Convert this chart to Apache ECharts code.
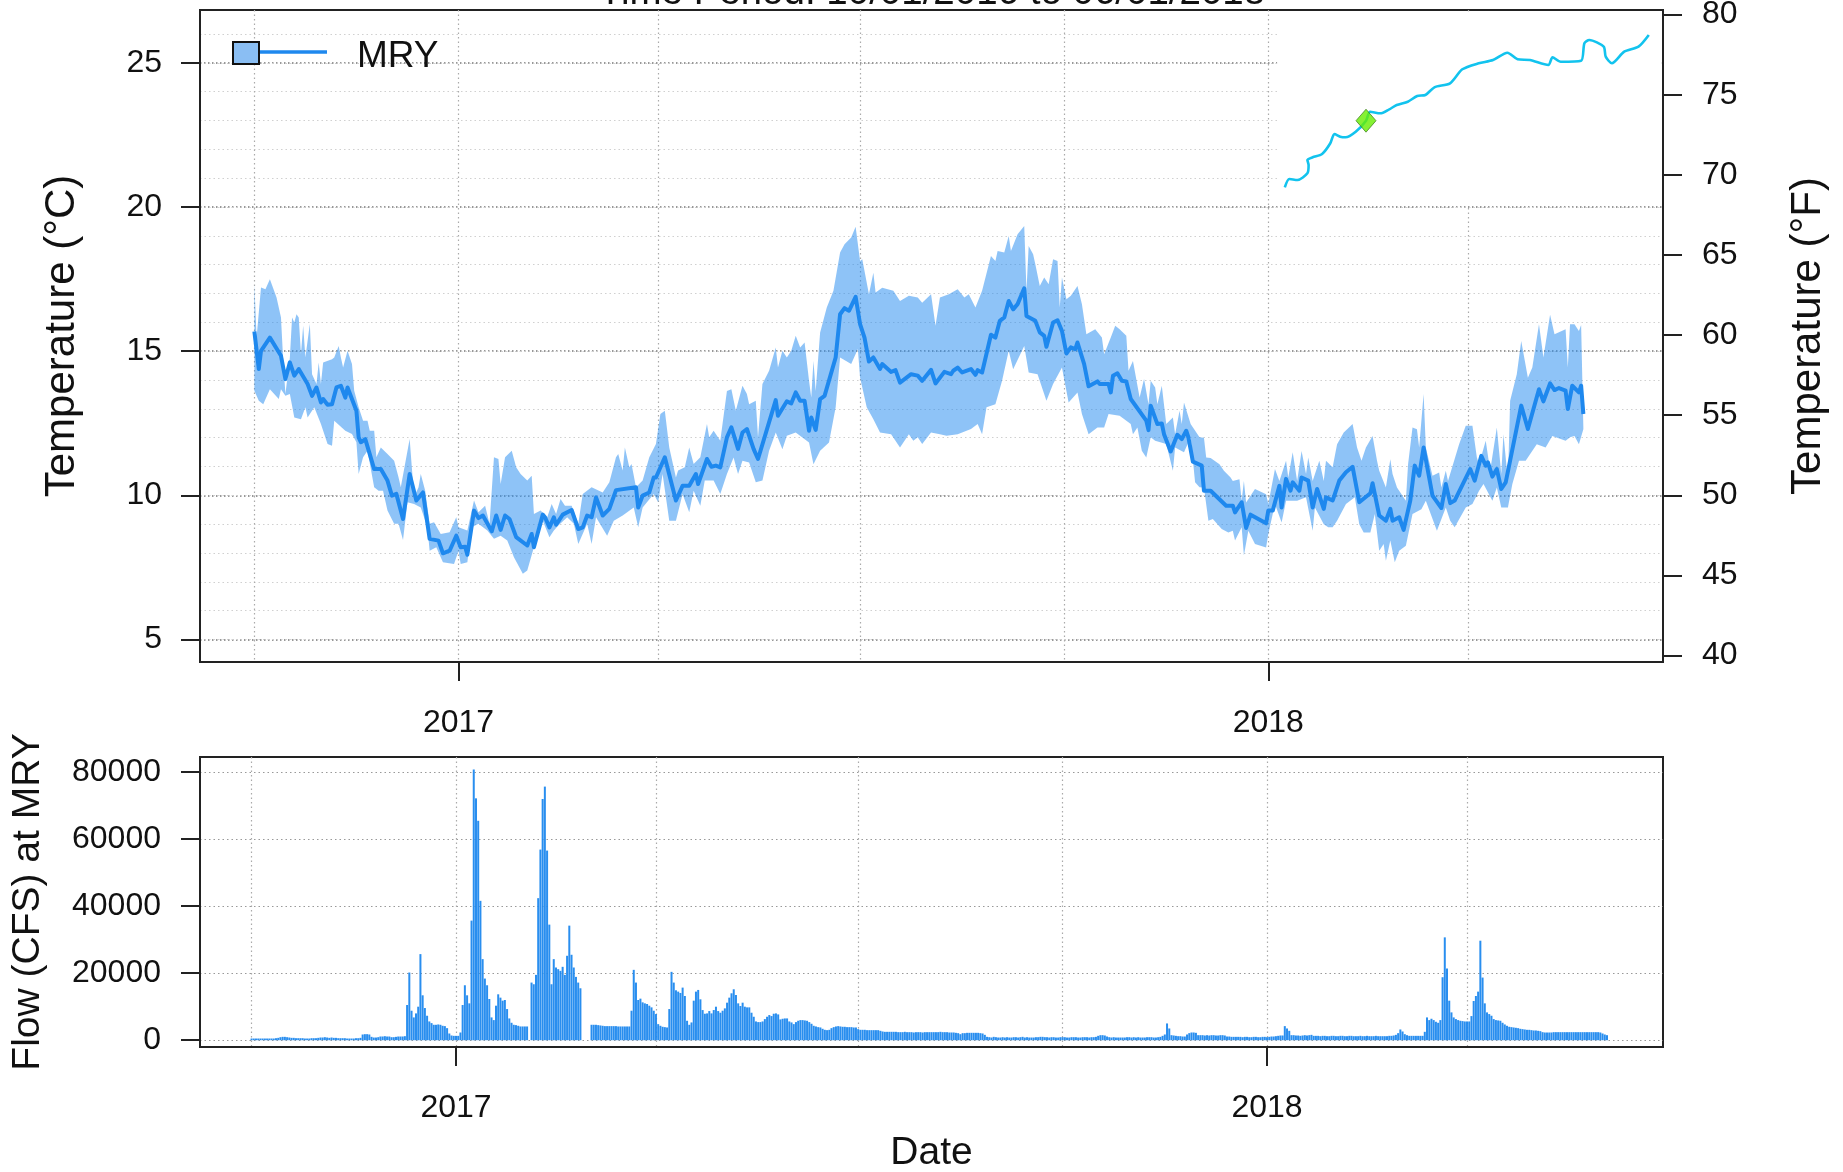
<!DOCTYPE html>
<html>
<head>
<meta charset="utf-8">
<title>MRY temperature and flow</title>
<script src="https://cdn.jsdelivr.net/npm/echarts@6/dist/echarts.min.js"></script>
<style>
  html, body { margin: 0; padding: 0; background: #fff; }
  #main { width: 1843px; height: 1172px; }
</style>
</head>
<body>
<div id="main"></div>
<script>
// days are counted from 10/01/2016
var titleText = 'Time Period: 10/01/2016 to 06/01/2018';
var seriesName = 'MRY';
var yearTickDays = [92, 457];
var yearTickLabels = ['2017', '2018'];
var quarterDays = [0, 92, 182, 273, 365, 457, 547];
var celsiusTicks = [5, 10, 15, 20, 25];
var celsiusMinor = [5, 6, 7, 8, 9, 10, 11, 12, 13, 14, 15, 16, 17, 18, 19, 20, 21, 22, 23, 24, 25, 26];
var fahrenheitTicks = [40, 45, 50, 55, 60, 65, 70, 75, 80];
var flowTicks = [0, 20000, 40000, 60000, 80000];

var meanDays = [0,2,3,7,12,14,16,18,20,24,26,28,30,31,33,35,37,39,41,42,46,47,48,50,52,54,57,60,62,64,67,70,73,76,79,83,85,88,91,93,95,96,99,101,103,107,109,111,113,115,118,123,125,126,130,131,133,135,136,139,143,146,148,150,152,154,157,160,163,172,173,175,178,180,181,185,190,193,196,199,200,204,206,208,210,213,215,218,220,222,225,227,235,236,240,242,244,246,248,250,251,253,255,257,262,264,266,268,271,273,275,277,279,282,283,287,289,291,296,299,301,305,307,311,314,315,317,319,323,325,326,328,332,334,336,338,340,342,344,347,348,352,354,356,357,360,362,364,366,368,370,371,374,376,380,381,385,386,387,389,391,393,395,402,403,404,407,409,410,413,416,418,420,421,423,427,428,431,438,441,442,445,447,449,456,457,459,462,463,465,467,468,471,472,475,477,479,482,483,486,489,492,495,498,503,504,507,510,512,513,516,518,521,523,525,527,531,535,537,539,541,548,550,553,555,556,558,560,562,564,571,574,579,581,584,586,588,591,592,594,597,598,599];
var meanTemps = [15.68,14.38,15.01,15.47,14.84,14.03,14.61,14.15,14.38,13.86,13.45,13.74,13.22,13.34,13.14,13.16,13.74,13.80,13.39,13.74,12.93,12.01,11.84,11.95,11.43,10.91,10.91,10.51,9.99,10.05,9.18,10.74,9.82,10.10,8.49,8.43,7.99,8.08,8.60,8.20,8.22,7.94,9.47,9.21,9.30,8.75,9.30,8.80,9.30,9.18,8.55,8.26,8.66,8.20,9.33,9.24,8.89,9.24,8.98,9.33,9.49,8.83,8.89,9.30,9.24,9.93,9.30,9.53,10.18,10.28,9.58,9.99,10.10,10.62,10.62,11.32,9.82,10.33,10.33,10.74,10.39,11.26,10.99,11.03,10.97,12.01,12.36,11.61,12.18,12.30,11.61,11.26,13.30,12.76,13.26,13.19,13.57,13.28,13.28,12.24,12.70,12.27,13.34,13.45,14.78,16.28,16.49,16.40,16.88,15.94,15.47,14.64,14.78,14.38,14.55,14.28,14.34,13.91,14.20,14.15,13.97,14.35,13.88,14.28,14.20,14.32,14.43,14.26,14.38,14.18,14.34,14.26,15.57,15.47,16.05,16.17,16.74,16.45,16.63,17.18,16.22,16.05,15.65,15.53,15.15,15.99,16.07,15.70,14.92,15.13,15.07,15.30,14.55,13.78,13.95,13.86,13.86,13.57,14.15,14.23,13.97,13.95,13.34,12.59,12.26,13.11,12.47,12.49,12.12,11.52,12.10,11.95,12.24,12.01,11.17,11.03,10.16,10.16,9.64,9.64,9.41,9.76,8.87,9.33,9.03,9.47,9.47,10.33,9.58,10.57,10.16,10.45,10.16,10.62,10.51,9.58,10.22,9.53,9.93,9.82,10.51,10.80,10.99,9.76,10.07,10.42,9.30,9.12,9.53,9.12,9.24,8.80,9.82,11.03,10.68,11.66,9.99,9.56,10.39,9.73,9.82,10.91,10.51,11.37,11.03,11.14,10.65,10.91,10.22,10.45,13.11,12.30,13.68,13.26,13.88,13.65,13.72,13.63,12.99,13.80,13.57,13.80,12.82];

var upperDays = [0,1,3,5,7,10,12,13,14,16,17,18,19,20,21,22,23,25,26,28,29,30,31,35,36,38,39,40,42,44,45,47,49,51,52,54,55,57,60,63,65,66,70,72,74,75,77,79,81,84,88,91,92,96,99,101,104,106,108,110,111,113,116,118,120,123,125,126,129,132,134,136,138,140,143,146,148,152,157,160,163,164,166,167,169,170,172,175,178,181,183,185,187,190,191,194,196,198,201,204,205,207,210,213,215,217,220,222,223,226,227,229,232,235,236,238,240,242,244,246,248,250,251,252,253,255,258,261,264,266,269,271,273,274,277,279,280,283,288,291,295,299,301,305,307,309,313,317,320,322,325,328,332,334,335,338,340,341,344,347,348,349,351,352,354,356,358,360,362,363,364,366,368,371,373,375,379,382,383,386,388,390,393,394,396,399,401,403,404,406,407,409,411,414,415,417,418,419,422,426,428,429,431,435,437,440,441,444,445,446,447,451,456,457,460,462,465,466,468,470,472,474,475,477,480,482,483,486,488,491,495,497,499,501,504,506,507,510,512,513,515,519,520,522,524,525,527,528,531,534,535,537,538,543,546,549,551,552,555,557,560,562,563,565,566,569,571,574,576,579,581,584,586,591,592,593,595,597,598,599];
var upperTemps = [17.32,15.47,17.21,17.15,17.49,16.86,16.17,14.67,13.51,14.78,16.17,15.99,16.28,16.17,14.90,15.88,14.78,15.94,14.20,13.86,14.61,13.86,14.61,14.72,14.78,15.18,14.78,14.43,15.01,14.55,13.63,13.05,12.59,12.59,12.24,12.24,11.32,11.66,11.43,11.20,10.62,10.28,11.95,9.93,10.28,10.74,10.16,9.01,9.07,8.66,8.72,9.24,8.89,8.78,9.82,9.41,9.64,9.01,11.32,11.26,10.39,11.32,11.55,10.97,10.74,10.51,10.68,9.35,9.47,9.24,9.70,9.35,9.87,9.64,9.64,9.01,10.05,10.28,10.10,10.45,11.32,11.43,10.86,11.66,10.97,11.09,10.28,10.51,11.32,11.78,12.82,12.93,11.66,10.62,10.86,10.97,11.66,11.09,11.32,12.47,12.01,12.24,11.89,13.62,13.68,12.93,13.80,13.51,13.16,13.28,12.01,13.86,14.32,15.13,14.43,15.01,14.78,15.01,15.53,15.13,15.30,13.97,13.39,14.66,13.62,15.65,16.51,17.09,18.42,18.71,18.94,19.31,18.13,18.19,16.97,17.72,17.03,17.20,17.09,16.74,16.92,16.86,16.68,16.97,15.88,16.86,16.97,17.15,16.86,16.97,16.51,17.09,18.30,18.13,18.47,18.42,18.99,18.47,19.05,19.34,17.09,18.65,18.36,18.01,17.26,17.55,17.32,18.19,18.13,16.51,17.55,16.80,16.92,17.26,16.63,15.59,15.76,15.47,14.89,15.47,15.88,15.76,15.53,14.32,14.66,13.39,14.03,13.16,13.97,13.74,13.16,13.80,12.47,12.70,12.12,12.93,12.47,13.22,12.47,12.01,12.00,11.31,11.29,11.08,10.85,10.62,10.50,10.56,9.81,10.50,9.75,10.22,10.04,9.70,10.91,10.50,11.20,10.62,11.49,10.50,11.54,10.74,11.31,10.50,11.20,10.50,11.20,10.97,11.77,12.18,12.47,11.66,11.20,11.66,12.06,11.20,10.85,10.27,11.25,10.74,10.27,9.81,11.08,12.35,12.29,11.66,13.51,11.66,10.68,10.79,10.27,10.85,10.50,11.77,12.41,12.41,11.31,11.08,11.89,10.85,12.35,10.74,12.12,10.50,13.28,14.20,15.35,14.08,14.43,15.93,14.78,16.26,15.59,15.76,14.43,15.93,15.93,15.70,15.91,12.35];

var lowerDays = [0,2,4,7,11,12,14,16,18,21,23,24,27,30,33,35,36,41,44,46,47,49,51,54,56,58,60,63,65,67,69,72,75,78,79,82,85,90,92,93,96,98,101,105,108,111,114,117,121,123,126,130,133,135,137,141,144,146,150,152,154,159,162,166,171,173,175,180,182,184,187,190,193,196,198,201,203,207,210,213,216,218,220,223,226,229,232,235,238,240,244,250,252,255,259,262,264,269,272,273,276,279,282,287,291,295,297,299,301,305,309,312,317,323,326,328,330,334,337,340,342,347,349,353,357,360,364,367,371,373,376,380,383,385,390,395,396,398,400,402,404,406,411,414,415,419,422,424,426,428,430,432,436,439,441,442,445,446,448,451,456,457,460,463,465,470,474,477,478,482,484,486,488,492,496,498,500,503,505,507,509,510,512,514,516,519,522,526,528,533,537,539,541,546,549,552,554,558,560,562,565,567,570,573,578,582,585,591,593,595,597,599];
var lowerTemps = [13.63,13.28,13.16,13.68,13.34,13.68,13.45,13.51,12.70,12.64,13.05,12.70,13.05,12.47,11.78,11.72,12.59,12.24,12.13,11.84,10.74,11.32,11.55,10.28,10.16,10.16,9.47,9.01,9.01,8.45,9.76,9.70,9.58,8.89,8.08,8.20,7.68,7.62,8.08,7.62,7.68,8.89,9.01,8.78,8.49,8.60,8.43,7.85,7.28,7.39,8.20,9.12,8.55,8.78,8.95,9.24,9.01,8.31,9.01,8.31,9.24,8.60,9.12,9.30,9.58,8.89,9.58,10.05,9.76,10.74,9.12,9.12,10.05,9.41,10.16,9.64,10.51,10.51,10.05,10.74,11.31,10.74,11.20,11.14,10.45,10.51,11.55,12.18,11.60,12.07,12.18,11.83,11.08,11.55,11.83,13.05,14.78,14.55,15.07,14.09,13.05,12.64,12.18,12.12,11.66,12.12,11.89,12.01,11.78,12.18,12.12,12.07,12.12,12.30,12.47,12.12,13.05,13.16,13.97,15.01,14.37,15.18,14.26,14.20,13.28,13.86,14.43,13.22,13.57,12.82,12.12,12.35,12.35,12.82,12.76,12.47,12.12,12.35,11.55,11.31,12.01,11.89,11.78,10.85,11.66,11.49,12.01,10.45,10.28,10.27,9.12,9.18,8.83,8.71,8.77,8.43,8.89,7.91,8.77,8.31,8.19,8.66,9.70,9.06,9.81,9.81,9.93,8.77,9.58,9.00,8.89,8.89,9.12,9.70,9.93,9.00,8.71,8.71,9.35,8.08,8.31,7.73,8.43,7.68,8.08,8.25,9.35,9.52,9.81,8.77,9.58,9.12,8.89,9.58,9.70,10.16,10.39,9.81,10.27,9.58,9.58,10.39,11.20,11.20,11.77,11.66,12.06,11.89,12.01,12.06,11.77,12.29];

// one value per day from day 0, null where the record has a gap
var flowValues = [
  500,500,500,500,500,500,500,500,500,500,
  500,600,700,900,1000,1000,900,800,700,700,
  600,600,600,600,500,500,500,600,600,600,
  700,800,800,900,800,700,800,700,700,600,
  600,600,600,500,500,500,500,600,600,700,
  1700,1800,1800,1700,1000,800,800,900,1100,1100,
  1200,1100,1100,900,900,1000,1100,1100,1100,1200,
  10500,20200,8800,6800,8000,10000,25700,13400,9600,7300,
  5600,5100,4600,4600,4700,4600,4300,4200,3600,2000,
  1400,1300,1300,1300,2300,10500,16400,13400,11000,35700,
  80800,72200,65500,41600,24200,18400,16400,12300,6800,6000,
  10300,13700,12700,11800,12000,9300,6500,5200,4600,4500,
  4300,4100,4100,4100,4100,null,17200,16700,19500,42400,
  56900,72000,75700,56600,34500,16700,24200,21700,21200,20700,
  21900,19500,25200,34200,25500,21700,18900,17200,15500,null,
  null,null,null,4600,4600,4600,4500,4400,4300,4200,
  4200,4200,4200,4200,4200,4100,4100,4100,4100,4100,
  4100,8800,21000,17200,12000,12400,11300,11000,10800,10300,
  9800,8800,7800,4800,4300,4000,3900,3800,9300,20400,
  17200,14900,14500,14100,15700,13200,5800,4600,5300,11800,
  14500,15000,12200,9000,7900,8000,8700,8000,9000,10000,
  8700,8200,8800,9500,11200,12700,14000,15200,13500,11000,
  10200,11200,10000,9800,9800,8200,7000,5600,5400,5400,
  5600,6300,7000,7500,7200,7900,8000,7700,6200,6400,
  6500,6500,5600,5300,4800,5400,5800,6000,6000,5900,
  5800,5400,4900,4300,4100,3900,3800,3400,3100,3000,
  3100,3600,3900,4100,4200,4100,4000,4000,3900,3900,
  3900,3800,3800,3300,3100,3100,3100,3000,3000,3000,
  3000,3000,3000,2800,2600,2500,2500,2500,2500,2500,
  2500,2400,2400,2400,2500,2400,2400,2400,2300,2400,
  2400,2400,2300,2400,2400,2400,2400,2400,2400,2400,
  2500,2400,2400,2400,2300,2300,2300,2200,2100,1800,
  2100,2100,2200,2200,2200,2200,2200,2200,2100,2000,
  1600,1000,900,800,1000,900,800,800,900,800,
  900,800,800,900,900,800,900,1000,800,900,
  800,800,800,900,900,1000,1000,900,900,800,
  900,900,800,800,900,900,900,800,800,900,
  900,900,800,800,900,900,900,800,900,900,
  1000,1300,1500,1500,1400,1100,900,800,900,800,
  800,800,800,800,900,900,800,900,800,900,
  800,800,800,900,900,900,800,800,900,1000,
  1300,1700,5000,3500,1500,1400,1300,1200,1200,1100,
  1100,1700,2100,2300,2300,2200,1500,1500,1500,1400,
  1500,1400,1500,1500,1400,1400,1500,1500,1400,1100,
  1100,1000,1000,1000,1000,1000,900,1000,1000,900,
  900,1000,1000,900,900,1000,1000,900,1000,1100,
  1100,1200,1300,1400,1400,4200,3500,2800,1500,1500,
  1400,1400,1300,1400,1500,1400,1500,1600,1300,1300,
  1300,1200,1300,1300,1200,1200,1300,1300,1200,1200,
  1300,1300,1200,1200,1300,1300,1200,1200,1200,1300,
  1200,1200,1300,1200,1200,1200,1300,1200,1200,1200,
  1200,1200,1300,1300,1400,1600,2100,3200,2600,1800,
  1500,1300,1300,1300,1300,1300,1300,1300,2500,6800,
  6000,6400,6000,5500,5200,6000,18800,30700,21400,11800,
  8300,6800,6300,6000,5800,5700,5600,5600,5600,7200,
  11700,13200,14500,29700,18700,11000,8300,7800,7300,6300,
  6000,5900,5800,5200,4700,4300,4000,3900,3800,3700,
  3600,3400,3300,3200,3100,3100,3000,2900,2900,2800,
  2700,2400,2300,2300,2300,2300,2400,2400,2400,2400,
  2400,2400,2400,2400,2400,2400,2400,2400,2400,2400,
  2400,2400,2400,2400,2400,2400,2400,2300,2000,1700,
  1500
];

// river outline of the inset map, in the inset's own units
var riverX = [7.8,12.3,20.5,30.4,31.6,30.4,35.7,45.1,53.3,57.4,63.2,68.5,78.7,89,93.1,103.3,112.3,119.7,130.8,140.2,148.4,157.4,173,185.3,201.7,216,230.4,240.6,252.9,271.4,275.5,283.7,304.1,307.4,312.3,326.7,328.7,334.9,347.2,361.5,371.8];
var riverY = [17.7,26,25,31.7,40,45,47.7,51,61.7,71,68.3,67.7,73.3,84.3,93.3,91.7,95.7,100,103.3,109,110,117.7,121.7,135.7,141.7,145,152.3,145.7,145,140,147.7,143.3,144.3,161.7,165,158.3,148.3,141.7,153.3,158.3,170];
var stationX = [89];
var stationY = [84.3];

var FONT = 'Liberation Sans';
var BLUE = '#1e88ee';
var BAND = 'rgba(30,136,240,0.5)';
var FRAME = '#222';

function zip(a, b) {
  return a.map(function (v, i) { return [v, b[i]]; });
}

var bandPoints = zip(upperDays, upperTemps).concat(zip(lowerDays, lowerTemps).reverse());
var flowData = flowValues.map(function (v, i) { return [i, v]; });

function yearLabel(v) {
  var i = yearTickDays.indexOf(v);
  return i >= 0 ? yearTickLabels[i] : '';
}

// axis that only draws grid lines
function gridOnlyX(idx, min, max) {
  return {
    type: 'value', gridIndex: idx, min: min, max: max,
    axisLine: { show: false },
    axisLabel: { show: false },
    axisTick: { show: false, customValues: quarterDays },
    splitLine: { show: true, lineStyle: { color: '#aaa', width: 1.2, type: [1.5, 3] } }
  };
}

function yearX(idx, min, max, margin, extra) {
  return Object.assign({
    type: 'value', gridIndex: idx, min: min, max: max,
    axisLine: { onZero: false, lineStyle: { color: FRAME, width: 2 } },
    axisTick: { length: 19, customValues: yearTickDays, lineStyle: { color: FRAME, width: 2 } },
    axisLabel: {
      customValues: yearTickDays, margin: margin, color: '#111',
      fontFamily: FONT, fontSize: 32, formatter: yearLabel
    },
    splitLine: { show: false }
  }, extra || {});
}

var option = {
  backgroundColor: '#fff',
  animation: false,
  title: {
    text: titleText, left: 927, top: -31, textAlign: 'center',
    textStyle: { fontFamily: FONT, fontSize: 38.5, fontWeight: 'normal', color: '#111' }
  },
  grid: [
    { left: 200, top: 10, width: 1463, height: 652, show: true, borderColor: FRAME, borderWidth: 2, outerBoundsMode: 'none' },
    { left: 200, top: 757, width: 1463, height: 290, show: true, borderColor: FRAME, borderWidth: 2, outerBoundsMode: 'none' },
    { left: 1277, top: 10, width: 386, height: 195, outerBoundsMode: 'none' }
  ],
  xAxis: [
    yearX(0, -24.5, 634.9, 45),
    gridOnlyX(0, -24.5, 634.9),
    yearX(1, -23.2, 635.2, 45, {
      name: 'Date', nameLocation: 'middle', nameGap: 87,
      nameTextStyle: { fontFamily: FONT, fontSize: 39, color: '#111' }
    }),
    gridOnlyX(1, -23.2, 635.2),
    { type: 'value', gridIndex: 2, min: 0, max: 386, show: false }
  ],
  yAxis: [
    {
      type: 'value', gridIndex: 0, min: 4.22, max: 26.83, position: 'left',
      name: 'Temperature (°C)', nameLocation: 'middle', nameGap: 117, nameRotate: 90,
      nameTextStyle: { fontFamily: FONT, fontSize: 42, color: '#111' },
      axisLine: { show: true, onZero: false, lineStyle: { color: FRAME, width: 2 } },
      axisTick: { length: 19, customValues: celsiusTicks, lineStyle: { color: FRAME, width: 2 } },
      axisLabel: { customValues: celsiusTicks, margin: 38, color: '#111', fontFamily: FONT, fontSize: 32 },
      splitLine: { show: true, lineStyle: { color: '#777', width: 1.5, type: [1.5, 2.5] } }
    },
    {
      type: 'value', gridIndex: 0, min: 39.6, max: 80.29, position: 'right',
      name: 'Temperature (°F)', nameLocation: 'middle', nameGap: 124, nameRotate: 90,
      nameTextStyle: { fontFamily: FONT, fontSize: 42, color: '#111' },
      axisLine: { show: true, onZero: false, lineStyle: { color: FRAME, width: 2 } },
      axisTick: { length: 19, customValues: fahrenheitTicks, lineStyle: { color: FRAME, width: 2 } },
      axisLabel: { customValues: fahrenheitTicks, margin: 39, color: '#111', fontFamily: FONT, fontSize: 32 },
      splitLine: { show: false }
    },
    {
      type: 'value', gridIndex: 0, min: 4.22, max: 26.83, position: 'left',
      axisLine: { show: false },
      axisLabel: { show: false },
      axisTick: { show: false, customValues: celsiusMinor },
      splitLine: { show: true, lineStyle: { color: '#d0d0d0', width: 1.2, type: [1.5, 3] } }
    },
    {
      type: 'value', gridIndex: 1, min: -2030, max: 84537,
      name: 'Flow (CFS) at MRY', nameLocation: 'middle', nameGap: 152, nameRotate: 90,
      nameTextStyle: { fontFamily: FONT, fontSize: 39, color: '#111' },
      axisLine: { show: true, onZero: false, lineStyle: { color: FRAME, width: 2 } },
      axisTick: { length: 19, customValues: flowTicks, lineStyle: { color: FRAME, width: 2 } },
      axisLabel: {
        customValues: flowTicks, margin: 39, color: '#111', fontFamily: FONT, fontSize: 32,
        formatter: function (v) { return String(v); }
      },
      splitLine: { show: true, lineStyle: { color: '#999', width: 1.2, type: [1.5, 3] } }
    },
    { type: 'value', gridIndex: 2, min: 0, max: 195, show: false }
  ],
  series: [
    {
      // min-max band
      type: 'custom', xAxisIndex: 0, yAxisIndex: 0, silent: true, z: 3,
      data: bandPoints,
      encode: { x: 0, y: 1 },
      renderItem: function (params, api) {
        if (params.dataIndex !== 0) return null;
        return {
          type: 'polygon',
          shape: { points: bandPoints.map(function (p) { return api.coord(p); }) },
          style: { fill: BAND }
        };
      }
    },
    {
      name: seriesName, type: 'line', xAxisIndex: 0, yAxisIndex: 0, z: 4,
      data: zip(meanDays, meanTemps), showSymbol: false,
      lineStyle: { color: BLUE, width: 4, join: 'round' },
      // the map inset sits on a blank patch, grid lines stop there
      markArea: {
        silent: true, z: 1,
        itemStyle: { color: '#fff' },
        data: [[{ coord: [461, 20.03] }, { coord: [634.3, 26.77] }]]
      }
    },
    {
      type: 'bar', xAxisIndex: 2, yAxisIndex: 3, z: 3,
      data: flowData, barWidth: 2,
      itemStyle: { color: BLUE, opacity: 0.95 }
    },
    {
      type: 'line', xAxisIndex: 4, yAxisIndex: 4, z: 5,
      data: zip(riverX, riverY), showSymbol: false, smooth: 0.25,
      lineStyle: { color: '#12c3ee', width: 2.6 }
    },
    {
      type: 'scatter', xAxisIndex: 4, yAxisIndex: 4, z: 6,
      data: zip(stationX, stationY), symbol: 'diamond', symbolSize: [20, 23],
      itemStyle: { color: '#66ee00', borderColor: '#2a6a10', borderWidth: 0.8 }
    }
  ],
  graphic: [
    { type: 'line', z: 10, shape: { x1: 259, y1: 52, x2: 327, y2: 52 }, style: { stroke: BLUE, lineWidth: 3.5 } },
    { type: 'rect', z: 10, shape: { x: 233, y: 42, width: 26, height: 22 }, style: { fill: '#8abef3', stroke: '#111', lineWidth: 2 } },
    { type: 'text', z: 10, style: { x: 357, y: 57, text: seriesName, fill: '#111', font: '37px "Liberation Sans"', textVerticalAlign: 'middle' } }
  ]
};

var myChart = echarts.init(document.getElementById('main'));
myChart.setOption(option);
</script>
</body>
</html>
